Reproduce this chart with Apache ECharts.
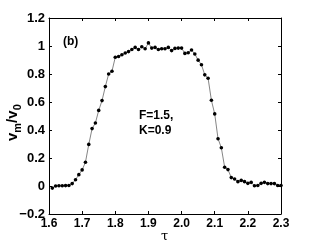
<!DOCTYPE html>
<html><head><meta charset="utf-8">
<script src="https://cdn.jsdelivr.net/npm/echarts@6/dist/echarts.min.js"></script>
<style>html,body{margin:0;padding:0;background:#fff}#c{width:310px;height:244px}</style>
</head><body><div id="c"></div>
<script>
var tau = [1.61,1.62,1.63,1.64,1.65,1.66,1.67,1.68,1.69,1.70,
1.71,1.72,1.73,1.74,1.75,1.76,1.77,1.78,1.79,1.80,
1.81,1.82,1.83,1.84,1.85,1.86,1.87,1.88,1.89,1.90,
1.91,1.92,1.93,1.94,1.95,1.96,1.97,1.98,1.99,2.00,
2.01,2.02,2.03,2.04,2.05,2.06,2.07,2.08,2.09,2.10,
2.11,2.12,2.13,2.14,2.15,2.16,2.17,2.18,2.19,2.20,
2.21,2.22,2.23,2.24,2.25,2.26,2.27,2.28,2.29,2.30];
var vm = [-0.015,0.0,0.002,0.002,0.003,0.004,0.017,0.045,0.081,0.115,
0.17,0.297,0.41,0.45,0.54,0.61,0.71,0.80,0.82,0.92,
0.925,0.937,0.95,0.96,0.975,0.99,0.975,0.995,0.98,1.022,
0.985,0.99,0.975,0.98,0.98,0.99,0.967,0.983,0.985,0.985,
0.947,0.952,0.971,0.943,0.899,0.866,0.794,0.77,0.612,0.515,
0.338,0.273,0.134,0.117,0.06,0.05,0.031,0.04,0.031,0.019,
0.026,0.002,0.004,0.019,0.026,0.017,0.017,0.017,0.004,0.004];
var xTicks = {min:1.6, max:2.3, step:0.1};
var yTicks = {min:-0.2, max:1.2, step:0.2};

var chart = echarts.init(document.getElementById('c'));
var FONT = '"Liberation Sans", Arial, sans-serif';
var lblStyle = {color:'#000', fontFamily:FONT, fontWeight:'bold', fontSize:12};
function axisCommon(){
  return {
    axisLine:{show:true, onZero:false, lineStyle:{color:'#000', width:1}},
    axisTick:{show:true, inside:true, length:3, lineStyle:{color:'#000'}},
    splitLine:{show:false}
  };
}
var data = tau.map(function(t,i){return [t, vm[i]];});
chart.setOption({
  animation:false,
  grid:{left:49, right:29, top:18, bottom:30},
  xAxis:[
    Object.assign({type:'value', min:xTicks.min, max:xTicks.max, interval:xTicks.step, position:'bottom',
      axisLabel:Object.assign({margin:4, formatter:function(v){return v.toFixed(1);}}, lblStyle)}, axisCommon()),
    Object.assign({type:'value', min:xTicks.min, max:xTicks.max, interval:xTicks.step, position:'top',
      axisLabel:{show:false}}, axisCommon())
  ],
  yAxis:[
    Object.assign({type:'value', min:yTicks.min, max:yTicks.max, interval:yTicks.step, position:'left',
      axisLabel:Object.assign({margin:4, fontSize:13, formatter:function(v){return String(Math.round(v*10)/10).replace('-','\u2212');}}, lblStyle, {fontSize:13})}, axisCommon()),
    Object.assign({type:'value', min:yTicks.min, max:yTicks.max, interval:yTicks.step, position:'right',
      axisLabel:{show:false}}, axisCommon())
  ],
  series:[{
    type:'line', data:data, xAxisIndex:0, yAxisIndex:0,
    symbol:'circle', symbolSize:3.6, showAllSymbol:true,
    lineStyle:{color:'#666', width:0.8},
    itemStyle:{color:'#000'}
  }],
  graphic:[
    {type:'text', left:63, top:36, style:{text:'(b)', font:'bold 12px '+FONT, fill:'#000'}},
    {type:'text', left:139, top:108, style:{text:'F=1.5,\nK=0.9', font:'bold 12px '+FONT, fill:'#000', lineHeight:15}},
    {type:'text', x:161, y:230, style:{text:'\u03c4', font:'13px "DejaVu Serif", serif', fill:'#000'}},
    {type:'text', x:5, y:141, rotation:Math.PI/2,
      style:{text:'{b|v}{s|m}{b|/v}{s|0}', fill:'#000',
        rich:{b:{font:'bold 15px '+FONT, fill:'#000', verticalAlign:'top'},
              s:{font:'bold 11px '+FONT, fill:'#000', padding:[7,0,0,0]}}}}
  ]
});
</script></body></html>
